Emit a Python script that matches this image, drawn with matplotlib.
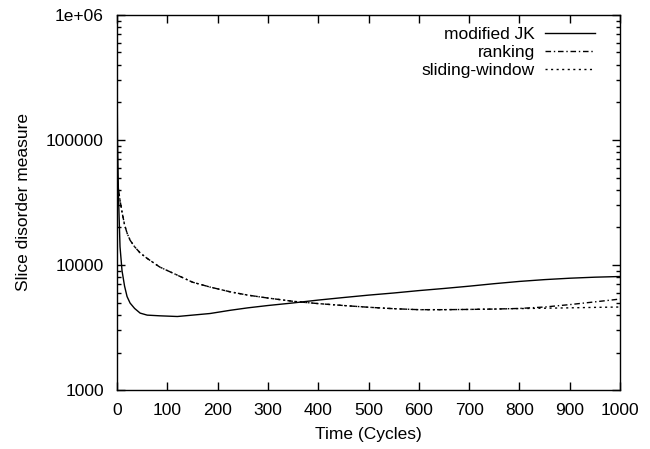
import matplotlib
matplotlib.use('Agg')
import matplotlib.pyplot as plt
from matplotlib.ticker import FixedLocator, FuncFormatter, LogLocator, NullFormatter

plt.rcParams['font.family'] = ['Liberation Sans', 'DejaVu Sans']

# data
cycles = [0, 1, 3, 6, 10, 15, 20, 26, 35, 46, 60, 85, 120, 150, 185, 225, 260, 300,
          350, 400, 450, 500, 550, 600, 650, 700, 750, 800, 850, 900, 950, 1000]
modified_jk = [400000, 100000, 35000, 14000, 9000, 6800, 5600, 4970, 4500, 4130, 3980,
               3930, 3880, 3980, 4100, 4350, 4550, 4750, 4980, 5250, 5500, 5750,
               5980, 6250, 6500, 6780, 7100, 7400, 7650, 7850, 8000, 8100]
ranking = [50000, 46000, 40000, 33000, 26500, 21000, 18000, 15800, 14000, 12500, 11300,
           9640, 8300, 7300, 6670, 6110, 5750, 5450, 5130, 4920, 4750, 4600,
           4480, 4400, 4400, 4420, 4450, 4500, 4620, 4830, 5080, 5350]
sliding_window = [50000, 46000, 40000, 33000, 26500, 21000, 18000, 15800, 14000, 12500, 11300,
                  9640, 8300, 7300, 6670, 6110, 5750, 5450, 5130, 4920, 4750, 4600,
                  4480, 4400, 4400, 4420, 4450, 4490, 4520, 4550, 4590, 4620]
y_labels = {1000: '1000', 10000: '10000', 100000: '100000', 1000000: '1e+06'}

fig = plt.figure(figsize=(6.5, 4.49), dpi=100)
ax = fig.add_axes([0.18, 0.131, 0.774, 0.836])

ax.plot(cycles, modified_jk, color='black', lw=1.0, label='modified JK')
ax.plot(cycles, ranking, color='black', lw=1.0, dashes=(4, 2, 1, 2), label='ranking')
ax.plot(cycles, sliding_window, color='black', lw=1.0, dashes=(1.5, 2.5), label='sliding-window')

ax.set_yscale('log')
ax.set_xlim(0, 1000)
ax.set_ylim(1000, 1000000)
ax.xaxis.set_major_locator(FixedLocator(range(0, 1001, 100)))
ax.yaxis.set_major_locator(FixedLocator(list(y_labels)))
ax.yaxis.set_major_formatter(FuncFormatter(lambda v, p: y_labels.get(int(round(v)), '')))
ax.yaxis.set_minor_locator(LogLocator(base=10, subs=range(2, 10)))
ax.yaxis.set_minor_formatter(NullFormatter())

ax.tick_params(which='both', direction='in', top=True, right=True, labelsize=12.5, width=1)
ax.tick_params(which='major', length=6, pad=9.5)
ax.tick_params(which='minor', length=3)
for s in ax.spines.values():
    s.set_linewidth(1)

ax.set_xlabel('Time (Cycles)', fontsize=12.5, labelpad=6)
ax.set_ylabel('Slice disorder measure', fontsize=12.5, labelpad=11)

ax.legend(loc='upper right', bbox_to_anchor=(0.974, 1.0), frameon=False, markerfirst=False,
          fontsize=12.5, handlelength=2.9, labelspacing=0.15, borderaxespad=0.3,
          handletextpad=0.55)

fig.savefig('out.png', dpi=100)
